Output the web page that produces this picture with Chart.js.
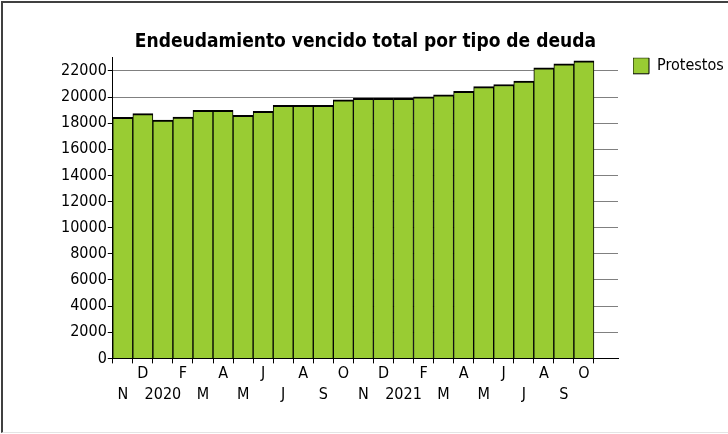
<!DOCTYPE html>
<html>
<head>
<meta charset="utf-8">
<script src="https://cdn.jsdelivr.net/npm/chart.js@4"></script>
<style>
  html, body { margin: 0; padding: 0; background: #fff; }
  #wrap { position: relative; width: 728px; height: 434px; overflow: hidden; }
  #c { position: absolute; left: 0; top: 0; }
  #frame { position: absolute; left: 1px; top: 1px; width: 727px; height: 432px;
           border-top: 2px solid #404040; border-left: 2px solid #404040;
           border-bottom: 1px solid #e4e4e4; box-sizing: border-box; pointer-events: none; }
</style>
</head>
<body>
<div id="wrap">
  <canvas id="c" width="728" height="434"></canvas>
  <div id="frame"></div>
</div>
<script>
const TITLE = 'Endeudamiento vencido total por tipo de deuda';
const SERIES_NAME = 'Protestos';
const categories = ['N','D','2020','F','M','A','M','J','J','A','S','O',
                    'N','D','2021','F','M','A','M','J','J','A','S','O'];
const protestos = [18450, 18730, 18230, 18470, 18980, 18980, 18600, 18900,
                   19360, 19360, 19360, 19790, 19900, 19900, 19900, 20020,
                   20170, 20440, 20790, 20960, 21210, 22230, 22530, 22760];
const yTicks = [0, 2000, 4000, 6000, 8000, 10000, 12000, 14000, 16000, 18000, 20000, 22000];

const FONT = "'DejaVu Sans Condensed', 'Liberation Sans', sans-serif";

const points = protestos.map((v, i) => ({ x: i, y: v }));
const X_MIN = -0.5, X_MAX = 24.7;

new Chart(document.getElementById('c'), {
  type: 'bar',
  data: {
    datasets: [{
      label: SERIES_NAME,
      data: points,
      xAxisID: 'x',
      yAxisID: 'y',
      backgroundColor: '#99CC33',
      borderColor: '#000000',
      borderWidth: { top: 2, left: 1, right: 1, bottom: 0 },
      borderSkipped: 'start',
      barPercentage: 1,
      categoryPercentage: 1
    }]
  },
  options: {
    responsive: false,
    animation: false,
    devicePixelRatio: 1,
    layout: { padding: { left: 60, right: 4, top: 0, bottom: 29 } },
    plugins: {
      title: {
        display: true,
        fullSize: false,
        text: TITLE,
        color: '#000',
        font: { family: FONT, size: 19, weight: 'bold' },
        padding: { top: 31, bottom: 4 }
      },
      legend: {
        position: 'right',
        align: 'start',
        fullSize: false,
        maxWidth: 91,
        labels: {
          color: '#000',
          font: { family: FONT, size: 16 },
          boxWidth: 16,
          boxHeight: 16,
          padding: 0
        }
      },
      tooltip: { enabled: false }
    },
    scales: {
      x2: {
        type: 'linear',
        position: 'bottom',
        weight: 0,
        offset: false,
        min: X_MIN,
        max: X_MAX,
        afterBuildTicks: (scale) => {
          scale.ticks = Array.from({ length: categories.length + 1 }, (_, i) => ({ value: i - 0.5 }));
        },
        grid: { drawOnChartArea: false, offset: false, tickLength: 5, tickColor: '#000', lineWidth: 1 },
        border: { color: '#000', width: 1 },
        ticks: { display: false }
      },
      x: {
        type: 'linear',
        position: 'bottom',
        weight: 1,
        offset: false,
        min: X_MIN,
        max: X_MAX,
        afterBuildTicks: (scale) => {
          scale.ticks = categories.map((_, i) => ({ value: i }));
        },
        grid: { display: false, drawTicks: false, offset: false },
        border: { display: false },
        ticks: {
          autoSkip: false,
          maxRotation: 0,
          padding: 0,
          color: '#000',
          font: { family: FONT, size: 16, lineHeight: 1.3 },
          callback: (value) => {
            const i = Math.round(value);
            if (i < 0 || i >= categories.length) return '';
            return (i % 2 === 1) ? categories[i] : ['', categories[i]];
          }
        }
      },
      y: {
        type: 'linear',
        min: 0,
        max: 23000,
        afterBuildTicks: (scale) => { scale.ticks = yTicks.map(v => ({ value: v })); },
        grid: { color: '#808080', tickColor: '#000', tickLength: 5, lineWidth: 1 },
        border: { color: '#000', width: 1 },
        ticks: {
          autoSkip: false,
          padding: 1,
          color: '#000',
          font: { family: FONT, size: 16 },
          callback: (value) => String(value)
        }
      },
      gap: {
        type: 'linear',
        position: 'right',
        weight: 0,
        grid: { display: false, drawTicks: false },
        border: { display: false },
        ticks: { display: false },
        afterFit: (scale) => { scale.width = 15; }
      }
    }
  }
});
</script>
</body>
</html>
